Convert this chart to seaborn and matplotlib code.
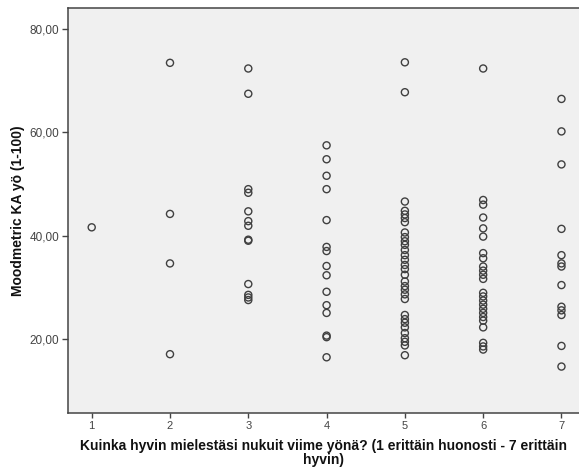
import matplotlib
matplotlib.use("Agg")
import matplotlib.pyplot as plt
import seaborn as sns
import pandas as pd

# Data (x = sleep rating, y = Moodmetric KA)
col1 = [41.6]
col2 = [73.5, 44.2, 34.6, 17.0]
col3 = [72.4, 67.5, 49.0, 48.3, 44.7, 42.8, 41.9, 39.2, 39.0, 30.6, 28.5, 28.0, 27.5]
col4 = [57.5, 54.8, 51.6, 49.0, 43.0, 37.8, 37.0, 34.1, 32.3, 29.1, 26.5, 25.0,
        20.6, 20.3, 16.4]
col5 = [73.6, 67.8, 46.6, 44.8, 44.1, 43.4, 42.6, 40.6, 39.7, 38.9, 38.2, 37.2,
        36.2, 35.3, 34.3, 33.5, 32.4, 31.1, 30.2, 29.5, 28.6, 27.7, 24.6, 23.8,
        23.1, 22.2, 21.1, 20.1, 19.4, 18.7, 16.8]
col6 = [72.4, 46.9, 46.0, 43.5, 41.4, 39.8, 36.6, 35.6, 34.0, 33.2, 32.4, 31.6,
        28.9, 28.2, 27.4, 26.6, 25.8, 25.0, 24.2, 23.5, 22.2, 19.2, 18.5, 17.9]
col7 = [66.5, 60.2, 53.8, 41.3, 36.2, 34.6, 34.0, 30.4, 26.2, 25.5, 24.6, 18.6, 14.6]

x_ticks = [1, 2, 3, 4, 5, 6, 7]
y_ticks = [20, 40, 60, 80]
y_tick_labels = ["20,00", "40,00", "60,00", "80,00"]

x_label = "Kuinka hyvin mielestäsi nukuit viime yönä? (1 erittäin huonosti - 7 erittäin\nhyvin)"
y_label = "Moodmetric KA yö (1-100)"

cols = [col1, col2, col3, col4, col5, col6, col7]
rows = []
for xv, vals in zip(x_ticks, cols):
    for v in vals:
        rows.append({"x": xv, "y": v})
df = pd.DataFrame(rows)

sns.set_theme(style="white")
plt.rcParams["font.family"] = ["Liberation Sans", "DejaVu Sans"]

fig = plt.figure(figsize=(5.79, 4.70), dpi=100)
ax = fig.add_axes([0.1166, 0.1219, 0.8834, 0.8604])
ax.set_facecolor("#f0f0f0")
fig.patch.set_facecolor("white")

sns.scatterplot(data=df, x="x", y="y", ax=ax, marker="o", s=26,
                facecolor="none", edgecolor="#404040", linewidth=1.0)

ax.set_xlim(0.691, 7.224)
ax.set_ylim(5.65, 84.07)
ax.set_xticks(x_ticks)
ax.set_xticklabels([str(t) for t in x_ticks])
ax.set_yticks(y_ticks)
ax.set_yticklabels(y_tick_labels)

for side in ["left", "bottom", "top"]:
    ax.spines[side].set_color("#444444")
    ax.spines[side].set_linewidth(1.1)
ax.spines["right"].set_visible(False)

ax.tick_params(axis="y", direction="out", length=4.5, width=1.0, color="#444444",
               labelsize=8.5, labelcolor="#444444", pad=1.5, left=True)
ax.tick_params(axis="x", direction="out", length=3.5, width=1.0, color="#444444",
               labelsize=8, labelcolor="#444444", pad=2.5, bottom=True)

ax.set_xlabel(x_label, fontsize=10, fontweight="bold", color="#111111",
              labelpad=6, linespacing=0.95)
ax.set_ylabel(y_label, fontsize=10, fontweight="bold", color="#111111", labelpad=3)
ax.grid(False)

fig.savefig("out.png", dpi=100)
